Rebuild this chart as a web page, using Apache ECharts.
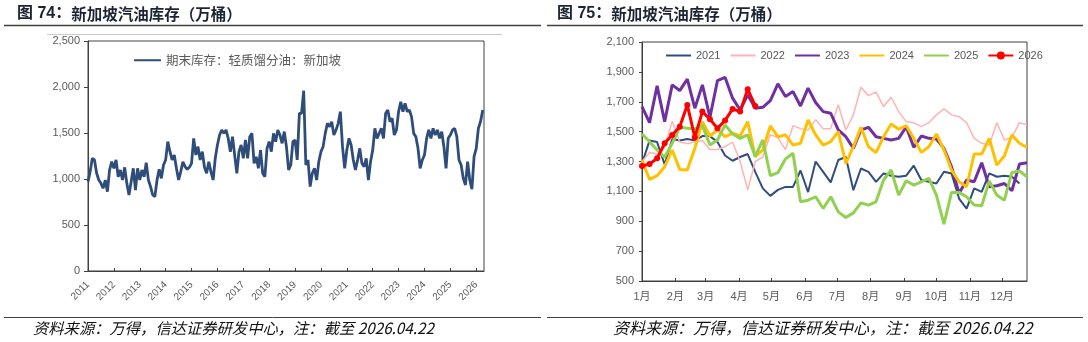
<!DOCTYPE html>
<html>
<head>
<meta charset="utf-8">
<title>新加坡汽油库存</title>
<script src="https://cdn.jsdelivr.net/npm/echarts@6/dist/echarts.min.js"></script>
<style>
  html, body { margin: 0; padding: 0; background: #fff; }
  #chart { width: 1088px; height: 342px; }
</style>
</head>
<body>
<div id="chart"></div>
<script>
// 图74：月度读数，2011-01 起
const stockStart = 2011
const stockMonthly = [
  971, 1080, 1225, 1207, 1062, 989, 953, 899, 989, 862,
  1098, 1188, 1116, 1207, 1025, 1098, 989, 1127, 953, 826,
  971, 1116, 880, 1116, 989, 1098, 1025, 1178, 989, 917,
  826, 808, 989, 1105, 1007, 1152, 1207, 1406, 1297, 1207,
  1261, 1116, 989, 1080, 1188, 1134, 1105, 1127, 1170, 1442,
  1261, 1351, 1207, 1297, 1127, 1062, 1188, 1080, 989, 1225,
  1370, 1478, 1533, 1496, 1533, 1442, 1297, 1460, 1261, 1062,
  1297, 1370, 1225, 1424, 1225, 1460, 1496, 1170, 1243, 1116,
  1315, 1062, 1025, 1333, 1406, 1297, 1496, 1406, 1533, 1478,
  1388, 1515, 1351, 1098, 1152, 1406, 1424, 1207, 1714, 1714,
  1960, 1152, 1207, 917, 1062, 1116, 989, 1188, 1297, 1351,
  1496, 1605, 1569, 1623, 1478, 1533, 1605, 1732, 1351, 1116,
  1315, 1442, 1370, 1207, 1098, 1207, 1333, 1170, 1134, 1225,
  989, 1188, 1315, 1551, 1442, 1496, 1551, 1442, 1714, 1750,
  1623, 1660, 1478, 1533, 1732, 1840, 1732, 1822, 1732, 1750,
  1678, 1496, 1460, 1333, 1116, 1207, 1261, 1442, 1533, 1442,
  1551, 1478, 1533, 1442, 1515, 1351, 1116, 1442, 1478, 1533,
  1551, 1460, 1207, 1152, 1007, 935, 1188, 989, 890, 1243,
  1333, 1551, 1623, 1750,
]
const yearTicks = [2011, 2012, 2013, 2014, 2015, 2016, 2017, 2018, 2019, 2020, 2021, 2022, 2023, 2024, 2025, 2026]

// 图75：按周（第0周=1月初）
const years = ['2021', '2022', '2023', '2024', '2025', '2026']
const s2021 = [
  1287, 1440, 1430, 1280, 1450, 1440, 1450, 1440, 1470, 1470,
  1430, 1340, 1305, 1330, 1350, 1230, 1120, 1070, 1110, 1130,
  1130, 1240, 1095, 1300, 1230, 1160, 1310, 1330, 1108, 1253,
  1231, 1164, 1220, 1205, 1198, 1205, 1272, 1176, 1164, 1153,
  1231, 1220, 1052, 985, 1120, 1097, 1220, 1198, 1205, 1198,
  1153,
]
const s2022 = [
  1300, 1360, 1350, 1390, 1570, 1430, 1420, 1430, 1440, 1380,
  1380, 1400, 1430, 1300, 1110, 1300, 1330, 1480, 1460, 1380,
  1540, 1520, 1510, 1580, 1520, 1520, 1680, 1511, 1612, 1797,
  1741, 1764, 1668, 1730, 1634, 1567, 1560, 1533, 1560, 1612,
  1652, 1612, 1600, 1560, 1455, 1422, 1410, 1560, 1444, 1462,
  1560, 1545,
]
const s2023 = [
  1668, 1560, 1806, 1567, 1813, 1775, 1851, 1657, 1813, 1596,
  1842, 1864, 1724, 1645, 1746, 1657, 1663, 1708, 1820, 1735,
  1768, 1672, 1791, 1695, 1634, 1623, 1511, 1466, 1388, 1511,
  1529, 1466, 1455, 1444, 1455, 1533, 1395, 1471, 1455, 1451,
  1388, 1265, 1086, 1176, 1164, 1292, 1131, 1138, 1153, 1104,
  1283, 1292,
]
const s2024 = [
  1310, 1180, 1205, 1265, 1377, 1247, 1243, 1388, 1567, 1471,
  1511, 1466, 1489, 1471, 1567, 1332, 1377, 1538, 1466, 1478,
  1410, 1422, 1578, 1478, 1410, 1433, 1500, 1288, 1399, 1529,
  1399, 1359, 1466, 1551, 1516, 1540, 1455, 1361, 1399, 1484,
  1377, 1243, 1164, 1131, 1350, 1350, 1455, 1276, 1337, 1478,
  1422, 1395,
]
const s2025 = [
  1484, 1433, 1377, 1328, 1422, 1529, 1522, 1518, 1540, 1410,
  1444, 1545, 1484, 1455, 1478, 1332, 1444, 1205, 1225, 1317,
  1355, 1030, 1041, 1064, 985, 1064, 963, 925, 956, 1023,
  1008, 1030, 1176, 1243, 1075, 1171, 1142, 1164, 1187, 1075,
  880, 1093, 1093, 1064, 1008, 1003, 1169, 1075, 1041, 1227,
  1236, 1198,
]
const s2026 = [1270, 1283, 1321, 1422, 1478, 1533, 1679, 1462, 1634, 1583, 1522, 1574, 1652, 1634, 1784, 1672]
const monthLabels = ['1月', '2月', '3月', '4月', '5月', '6月', '7月', '8月', '9月', '10月', '11月', '12月']
const monthStartDays = [0, 31, 59, 90, 120, 151, 181, 212, 243, 273, 304, 334]

const GRAY = '#595959'
const AXIS = '#404040'
const LATIN = 'Arial, "Liberation Sans", "Noto Sans CJK SC", sans-serif'
const CJK = '"Noto Sans CJK SC", sans-serif'

const monthPos = monthStartDays.map(d => d / 7)
const thousands = v => v.toLocaleString('en-US')
const weekly = arr => arr.map((v, i) => [i, v])
// 图例里只画线，不画圆点
const lineOnly = name => ({ name, itemStyle: { opacity: 0 } })

const chart = echarts.init(document.getElementById('chart'), null, { renderer: 'canvas' })

const yearSeries = [
  { name: '2021', data: s2021, color: '#2F4E7E', width: 2 },
  { name: '2022', data: s2022, color: '#FFB3B3', width: 1.5 },
  { name: '2023', data: s2023, color: '#7030A0', width: 3 },
  { name: '2024', data: s2024, color: '#FFC000', width: 3 },
  { name: '2025', data: s2025, color: '#92D050', width: 3 },
]

const lineSeries = yearSeries.map(s => ({
  name: s.name,
  type: 'line',
  xAxisIndex: 1,
  yAxisIndex: 1,
  data: weekly(s.data),
  symbol: 'none',
  lineStyle: { color: s.color, width: s.width },
  itemStyle: { color: s.color },
}))
lineSeries.push({
  name: '2026',
  type: 'line',
  xAxisIndex: 1,
  yAxisIndex: 1,
  data: weekly(s2026),
  symbol: 'circle',
  symbolSize: 6,
  lineStyle: { color: '#FF0000', width: 3 },
  itemStyle: { color: '#FF0000' },
})

const footer = '资料来源：万得，信达证券研发中心，注：截至 2026.04.22'
const titleRich = {
  b: { font: 'bold 16px ' + LATIN, fill: '#1c2433' },
  n: { font: 'bold 15.5px ' + CJK, fill: '#1c2433' },
}

chart.setOption({
  animation: false,
  grid: [
    { left: 88, top: 41, width: 396, height: 230, show: true, borderColor: AXIS, borderWidth: 1 },
    { left: 642, top: 42, width: 385, height: 239, show: true, borderColor: AXIS, borderWidth: 1 },
  ],
  legend: [
    {
      data: [lineOnly('期末库存：轻质馏分油：新加坡')],
      left: 128,
      top: 49,
      itemWidth: 27,
      itemHeight: 12,
      textStyle: { fontSize: 12.5, color: GRAY, fontFamily: CJK },
    },
    {
      data: [...years.slice(0, 5).map(lineOnly), '2026'],
      left: 660,
      top: 45,
      itemWidth: 25,
      itemHeight: 10,
      itemGap: 9,
      textStyle: { fontSize: 11, color: GRAY, fontFamily: LATIN },
    },
  ],
  xAxis: [
    {
      type: 'value',
      gridIndex: 0,
      min: 2011,
      max: 2026.3,
      axisLine: { lineStyle: { color: AXIS } },
      axisTick: { show: true, inside: true, length: 3, customValues: yearTicks, lineStyle: { color: AXIS } },
      axisLabel: {
        customValues: yearTicks,
        rotate: 45,
        fontSize: 10,
        margin: 12,
        color: GRAY,
        fontFamily: LATIN,
        formatter: v => String(v),
      },
      splitLine: { show: false },
    },
    {
      type: 'value',
      gridIndex: 1,
      min: 0,
      max: 51,
      axisLine: { lineStyle: { color: AXIS } },
      axisTick: { show: true, inside: true, length: 3, customValues: monthPos, lineStyle: { color: AXIS } },
      axisLabel: {
        customValues: monthPos,
        fontSize: 11,
        margin: 10,
        color: GRAY,
        fontFamily: LATIN,
        formatter: v => monthLabels[monthPos.findIndex(p => Math.abs(p - v) < 0.01)] || '',
      },
      splitLine: { show: false },
    },
  ],
  yAxis: [
    {
      type: 'value',
      gridIndex: 0,
      min: 0,
      max: 2500,
      interval: 500,
      axisLine: { show: true, lineStyle: { color: AXIS } },
      axisTick: { show: true, length: 4, lineStyle: { color: AXIS } },
      axisLabel: { fontSize: 11, color: GRAY, fontFamily: LATIN, margin: 8, formatter: thousands },
      splitLine: { show: false },
    },
    {
      type: 'value',
      gridIndex: 1,
      min: 500,
      max: 2100,
      interval: 200,
      axisLine: { show: true, lineStyle: { color: AXIS } },
      axisTick: { show: true, length: 3, lineStyle: { color: AXIS } },
      axisLabel: { fontSize: 11, color: GRAY, fontFamily: LATIN, margin: 8, formatter: thousands },
      splitLine: { show: false },
    },
  ],
  series: [
    {
      name: '期末库存：轻质馏分油：新加坡',
      type: 'line',
      xAxisIndex: 0,
      yAxisIndex: 0,
      data: stockMonthly.map((v, i) => [stockStart + i / 12, v]),
      symbol: 'none',
      lineStyle: { color: '#2E4D7B', width: 2.8 },
      itemStyle: { color: '#2E4D7B' },
    },
    ...lineSeries,
  ],
  graphic: [
    // 标题
    {
      type: 'text', left: 17, top: 6,
      style: { text: '{b|图 74：}{n|新加坡汽油库存（万桶）}', rich: titleRich },
    },
    {
      type: 'text', left: 557, top: 6,
      style: { text: '{b|图 75：}{n|新加坡汽油库存（万桶）}', rich: titleRich },
    },
    { type: 'line', shape: { x1: 4, y1: 25.5, x2: 541, y2: 25.5 }, style: { stroke: '#404040', lineWidth: 1.5 } },
    { type: 'line', shape: { x1: 547, y1: 25.5, x2: 1083, y2: 25.5 }, style: { stroke: '#404040', lineWidth: 1.5 } },
    { type: 'line', shape: { x1: 47, y1: 34.5, x2: 502, y2: 34.5 }, style: { stroke: '#c8c8c8', lineWidth: 1 } },
    // 资料来源
    { type: 'line', shape: { x1: 4, y1: 317.5, x2: 541, y2: 317.5 }, style: { stroke: '#404040', lineWidth: 1 } },
    { type: 'line', shape: { x1: 547, y1: 317.5, x2: 1083, y2: 317.5 }, style: { stroke: '#404040', lineWidth: 1 } },
    {
      type: 'text', left: 33, top: 321,
      style: { text: footer, font: 'italic 15.3px ' + CJK, fill: '#111' },
    },
    {
      type: 'text', left: 613, top: 320,
      style: { text: footer, font: 'italic 16px ' + CJK, fill: '#111' },
    },
  ],
})

window.addEventListener('resize', () => chart.resize())
</script>
</body>
</html>
